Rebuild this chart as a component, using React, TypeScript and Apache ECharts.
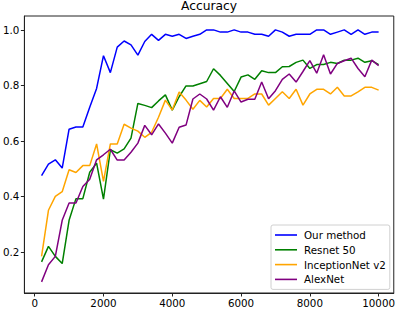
import React, { useEffect, useRef } from "react";
import * as echarts from "echarts";

const steps: number[] = [];
for (let i = 1; i <= 50; i++) steps.push(i * 200);

const seriesNames = ["Our method", "Resnet 50", "InceptionNet v2", "AlexNet"];
const seriesColors = ["#0000ff", "#008000", "#ffa500", "#800080"];

const ourMethod = [
  0.475, 0.516, 0.532, 0.502, 0.642, 0.65, 0.65, 0.721, 0.789, 0.907,
  0.846, 0.938, 0.96, 0.946, 0.909, 0.958, 0.984, 0.962, 0.984, 0.977,
  0.984, 0.969, 0.977, 0.984, 1.0, 1.0, 0.992, 0.992, 1.0, 0.992,
  0.992, 0.984, 0.984, 0.977, 1.0, 0.992, 0.977, 0.984, 0.984, 0.984,
  1.0, 1.0, 0.984, 0.992, 1.0, 0.984, 1.0, 0.984, 0.992, 0.992,
];
const resnet50 = [
  0.164, 0.22, 0.184, 0.158, 0.314, 0.392, 0.392, 0.487, 0.52, 0.39,
  0.568, 0.556, 0.571, 0.61, 0.735, 0.728, 0.72, 0.744, 0.766, 0.711,
  0.759, 0.798, 0.798, 0.806, 0.814, 0.86, 0.836, 0.807, 0.778, 0.83,
  0.838, 0.822, 0.853, 0.846, 0.846, 0.867, 0.868, 0.883, 0.891, 0.861,
  0.875, 0.875, 0.883, 0.879, 0.891, 0.891, 0.898, 0.883, 0.889, 0.875,
];
const inceptionV2 = [
  0.184, 0.35, 0.4, 0.417, 0.496, 0.486, 0.511, 0.511, 0.589, 0.454,
  0.589, 0.589, 0.66, 0.646, 0.635, 0.613, 0.631, 0.685, 0.747, 0.711,
  0.776, 0.747, 0.714, 0.746, 0.722, 0.753, 0.753, 0.786, 0.753, 0.753,
  0.753, 0.769, 0.769, 0.729, 0.753, 0.777, 0.753, 0.786, 0.729, 0.769,
  0.786, 0.786, 0.769, 0.793, 0.762, 0.762, 0.777, 0.793, 0.793, 0.783,
];
const alexNet = [
  0.092, 0.154, 0.184, 0.314, 0.376, 0.376, 0.436, 0.462, 0.532, 0.55,
  0.57, 0.531, 0.531, 0.559, 0.592, 0.656, 0.622, 0.661, 0.628, 0.592,
  0.649, 0.657, 0.751, 0.769, 0.751, 0.711, 0.759, 0.721, 0.78, 0.74,
  0.75, 0.75, 0.812, 0.752, 0.781, 0.822, 0.841, 0.812, 0.85, 0.889,
  0.844, 0.91, 0.841, 0.879, 0.889, 0.898, 0.861, 0.831, 0.891, 0.871,
];

const xTicks = [0, 2000, 4000, 6000, 8000, 10000];
const yTicks = [0.2, 0.4, 0.6, 0.8, 1.0];

const FONT = "DejaVu Sans";

export default function App() {
  const ref = useRef<HTMLDivElement>(null);
  useEffect(() => {
    if (!ref.current) return;
    const chart = echarts.init(ref.current, null, { renderer: "svg" });
    const allData = [ourMethod, resnet50, inceptionV2, alexNet];
    chart.setOption({
      animation: false,
      backgroundColor: "#ffffff",
      title: {
        text: "Accuracy",
        left: 209,
        textAlign: "center",
        top: 0,
        padding: 0,
        textStyle: { fontFamily: FONT, fontSize: 12.3, fontWeight: "normal", color: "#000" },
      },
      grid: {
        left: 24,
        right: 4,
        top: 16,
        bottom: 20,
        show: true,
        borderColor: "#222",
        borderWidth: 1,
        backgroundColor: "transparent",
      },
      legend: {
        orient: "vertical",
        left: 271,
        top: 225,
        padding: [5, 4, 5, 4],
        icon: "rect",
        itemWidth: 22,
        itemHeight: 1.6,
        itemGap: 4.8,
        borderColor: "#d0d0d0",
        borderWidth: 1,
        borderRadius: 2,
        backgroundColor: "rgba(255,255,255,0.8)",
        textStyle: { fontFamily: FONT, fontSize: 10.3, color: "#000", padding: [0, 0, 0, 2] },
        data: seriesNames,
      },
      xAxis: {
        type: "value",
        min: -300,
        max: 10440,
        axisLine: { show: true, onZero: false, lineStyle: { color: "#222", width: 1 } },
        axisTick: { show: true, length: 3.5, lineStyle: { color: "#222" }, customValues: xTicks },
        axisLabel: {
          customValues: xTicks,
          margin: 5,
          fontFamily: FONT,
          fontSize: 10.3,
          color: "#000",
          formatter: (v: number) => String(Math.round(v)),
        },
        splitLine: { show: false },
      },
      yAxis: {
        type: "value",
        min: 0.052,
        max: 1.05,
        axisLine: { show: true, onZero: false, lineStyle: { color: "#222", width: 1 } },
        axisTick: { show: true, length: 3.5, lineStyle: { color: "#222" }, customValues: yTicks },
        axisLabel: {
          customValues: yTicks,
          margin: 5,
          fontFamily: FONT,
          fontSize: 10.3,
          color: "#000",
          formatter: (v: number) => v.toFixed(1),
        },
        splitLine: { show: false },
      },
      series: seriesNames.map((name, k) => ({
        name,
        type: "line",
        symbol: "none",
        showSymbol: false,
        color: seriesColors[k],
        lineStyle: { width: 1.5, color: seriesColors[k] },
        data: steps.map((s, i) => [s, allData[k][i]]),
      })),
    });
    return () => chart.dispose();
  }, []);
  return <div ref={ref} style={{ width: 398, height: 313, position: "absolute", left: 0, top: 0 }} />;
}
